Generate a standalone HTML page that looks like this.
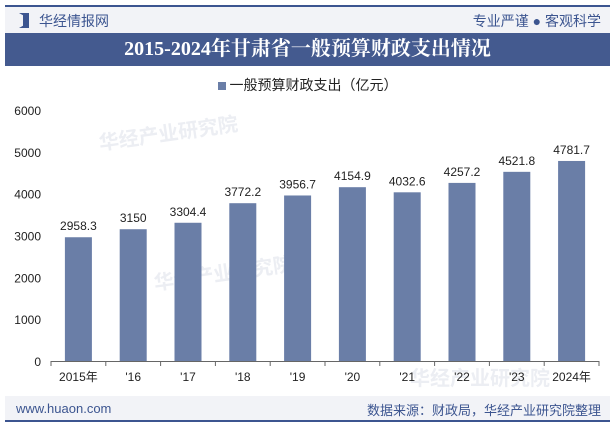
<!DOCTYPE html>
<html><head><meta charset="utf-8"><style>
body{margin:0;width:615px;height:427px;background:#fff;font-family:"Liberation Sans","Noto Sans CJK SC",sans-serif;position:relative;overflow:hidden}
.abs{position:absolute}
</style></head><body>
<div class="abs" style="left:5px;top:5px;width:605px;height:2px;background:#3c5590"></div>
<div class="abs" style="left:5px;top:7px;width:605px;height:26px;background:#f2f3f7"></div>
<div class="abs" style="left:19px;top:13px;width:10px;height:15px;background:#3c5590;clip-path:polygon(0 0,40% 15%,40% 85%,0 100%,100% 100%,100% 0)"></div>
<div class="abs" style="left:39px;top:11px;font-size:14px;color:#3c5590">华经情报网</div>
<div class="abs" style="right:14px;top:11px;font-size:14px;color:#3c5590">专业严谨 ● 客观科学</div>
<div class="abs" style="left:5px;top:33px;width:605px;height:33px;background:#445a8f;color:#fff;font-family:'Liberation Serif','Noto Serif CJK SC',serif;font-weight:bold;font-size:20px;text-align:center;line-height:33px">2015-2024年甘肃省一般预算财政支出情况</div>
<div class="abs" style="left:0;width:615px;top:75px;text-align:center;font-size:14px;color:#222"><span style="display:inline-block;width:8px;height:8px;background:#6a7ea7;margin-right:4px"></span>一般预算财政支出（亿元）</div>
<svg class="abs" style="left:0;top:0" width="615" height="427">
<g id="wm" fill="#eceef3" font-weight="bold" font-size="20">
<text x="100" y="150" transform="rotate(-8 100 150)">华经产业研究院</text>
<text x="155" y="290" transform="rotate(-8 155 290)">华经产业研究院</text>
<text x="410" y="385">华经产业研究院</text>
</g>
<g id="g"></g>
</svg>
<div class="abs" style="left:5px;top:396px;width:605px;height:24px;background:#f2f3f7"></div>
<div class="abs" style="left:5px;top:420px;width:605px;height:2px;background:#3c5590"></div>
<div class="abs" style="left:16px;top:401px;font-size:13px;color:#3c5590">www.huaon.com</div>
<div class="abs" style="right:14px;top:400px;font-size:13px;color:#3c5590">数据来源：财政局，华经产业研究院整理</div>
<script>
const categories=["2015年","'16","'17","'18","'19","'20","'21","'22","'23","2024年"];
const values=[2958.3,3150,3304.4,3772.2,3956.7,4154.9,4032.6,4257.2,4521.8,4781.7];
const labels=["2958.3","3150","3304.4","3772.2","3956.7","4154.9","4032.6","4257.2","4521.8","4781.7"];
const yTicks=[0,1000,2000,3000,4000,5000,6000];
const g=document.getElementById('g');const NS='http://www.w3.org/2000/svg';
const x0=51,x1=599,y0=361,y1=110,ymax=6000;
const bw=(x1-x0)/categories.length;
const Y=v=>y0-(v/ymax)*(y0-y1);
const X=i=>x0+bw*(i+0.5);
function mk(t,a){const e=document.createElementNS(NS,t);for(const k in a)e.setAttribute(k,a[k]);g.appendChild(e);return e;}
yTicks.forEach(v=>{const t=mk('text',{x:41,y:Y(v)+5,'text-anchor':'end','font-size':12,fill:'#222'});t.textContent=v;

});
const ax=mk('line',{x1:x0,x2:x1,y1:y0+0.5,y2:y0+0.5,stroke:'#666'});


for(let i=0;i<=categories.length;i++){const t=mk('line',{x1:x0+bw*i,x2:x0+bw*i,y1:y0,y2:y0+5,stroke:'#666'});

}
values.forEach((v,i)=>{
const r=mk('rect',{x:X(i)-13.5,y:Y(v),width:27,height:y0-Y(v),fill:'#6a7ea7'});


const t=mk('text',{x:X(i),y:Y(v)-7,'text-anchor':'middle','font-size':12,fill:'#222'});t.textContent=labels[i];


const c=mk('text',{x:X(i),y:381,'text-anchor':'middle','font-size':12,fill:'#222'});c.textContent=categories[i];


});
</script>
</body></html>
